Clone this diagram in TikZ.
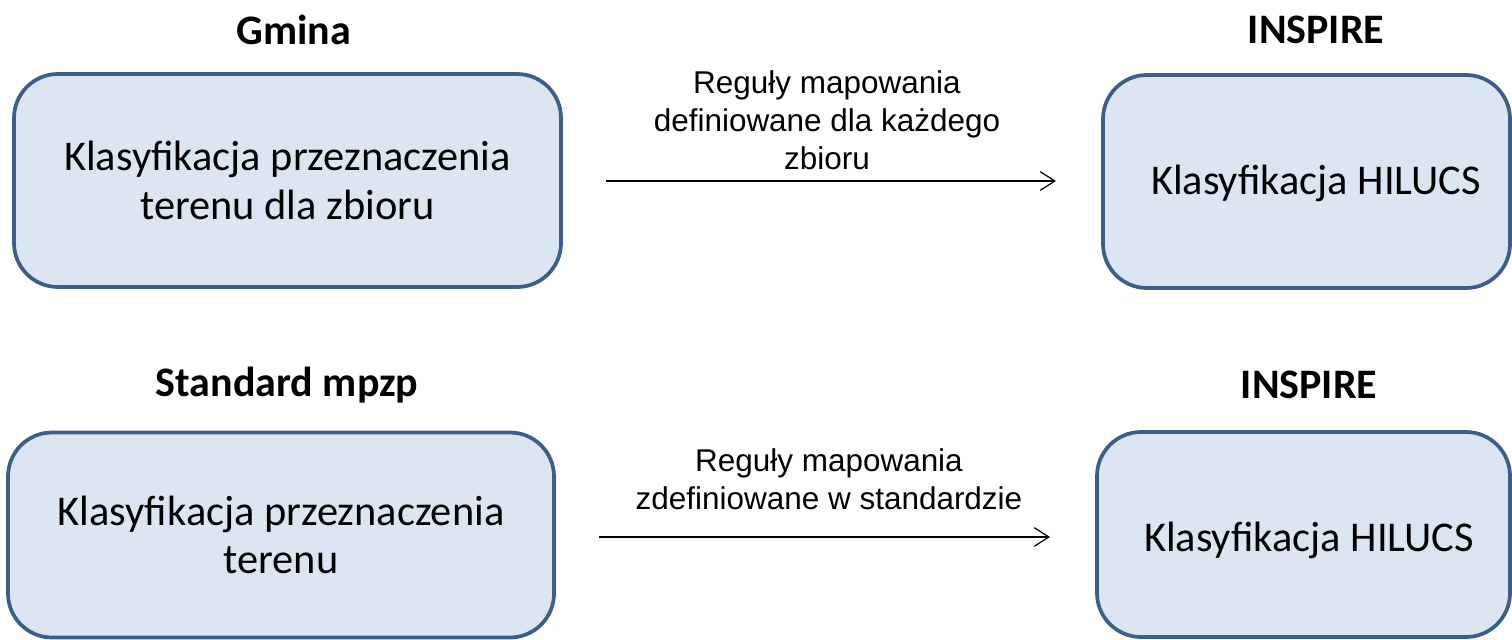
\documentclass[tikz,border=0pt]{standalone}
\usepackage{fontspec}
\setmainfont{Carlito}
\newfontfamily\arialf{Liberation Sans}
\usetikzlibrary{arrows.meta}
\definecolor{boxfill}{HTML}{DCE6F2}
\definecolor{boxline}{HTML}{3B5E8C}
\begin{document}
\begin{tikzpicture}[x=0.75pt,y=-0.75pt,
  box/.style={draw=boxline, fill=boxfill, line width=2.8pt, rounded corners=33pt,
    align=center, font=\fontsize{31.8}{36.5}\selectfont, inner sep=0pt},
  boxtext/.style={align=center, font=\fontsize{31.8}{36.5}\selectfont, inner sep=0pt},
  head/.style={font=\fontsize{31.5}{36}\selectfont\bfseries, inner sep=0pt},
  lbl/.style={font=\arialf\fontsize{23.6}{28.5}\selectfont, align=center, inner sep=0pt},
  arr/.style={line width=0.9pt, -{Straight Barb[length=11pt,width=14pt,line width=0.9pt]}}]
\useasboundingbox (0,0) rectangle (1512,639);
% headings
\node[head] (h1) at (294,30) {Gmina};
\node[head] (h2) at (1316,30) {INSPIRE};
\node[head] (h3) at (287,385) {Standard mpzp};
\node[head] (h4) at (1309,385) {INSPIRE};
% boxes
\node[box, minimum width=410.25pt, minimum height=159.75pt] (tl) at (287.5,180.5)
  {Klasyfikacja przeznaczenia\\terenu dla zbioru};
\node[box, minimum width=305.25pt, minimum height=159.75pt] (tr) at (1306.5,181.5) {};
\node[boxtext] (trt) at (1316,183) {Klasyfikacja HILUCS};
\node[box, minimum width=409.5pt, minimum height=153.75pt] (bl) at (281,535)
  {Klasyfikacja przeznaczenia\\terenu};
\node[box, minimum width=309.75pt, minimum height=153.75pt] (br) at (1303.5,534.5) {};
\node[boxtext] (brt) at (1309,540) {Klasyfikacja HILUCS};
% arrows
\coordinate (a1s) at (606,181);
\coordinate (a1e) at (1056,181);
\draw[arr] (a1s) -- (a1e);
\node[lbl] (l1) at (827,120) {Reguły mapowania\\definiowane dla każdego\\zbioru};
\coordinate (a2s) at (599,537);
\coordinate (a2e) at (1050,537);
\draw[arr] (a2s) -- (a2e);
\node[lbl] (l2) at (829,479) {Reguły mapowania\\zdefiniowane w standardzie};
\end{tikzpicture}
\end{document}
